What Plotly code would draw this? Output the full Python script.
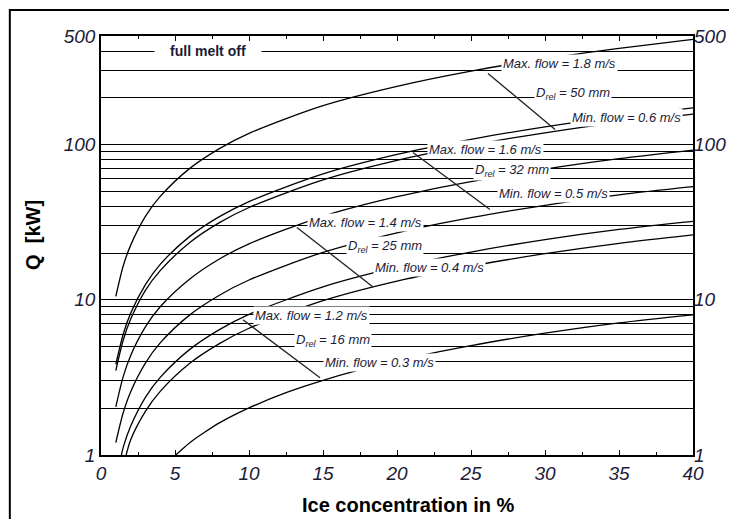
import numpy as np
import plotly.graph_objects as go

# ---------------- data ----------------
x_full = [1, 1.5, 2, 3, 4, 6, 8, 10, 15, 20, 25, 30, 35, 40]

q_max18_d50 = [10.5, 16.5, 22.4, 34.4, 46.3, 70.2, 94.1, 118, 178, 237, 297, 357, 416, 476]
q_min06_d50 = [3.50, 5.49, 7.48, 11.5, 15.4, 23.4, 31.4, 39.3, 59.2, 79.1, 99.0, 119, 139, 157]
q_max16_d32 = [3.83, 6.00, 8.17, 12.5, 16.9, 25.6, 34.3, 42.9, 64.7, 86.4, 108, 130, 152, 172]
q_min05_d32 = [1.20, 1.87, 2.55, 3.91, 5.27, 7.99, 10.7, 13.4, 20.2, 27.0, 33.8, 40.6, 47.4, 53.5]
q_max14_d25 = [2.04, 3.20, 4.36, 6.68, 9.01, 13.6, 18.3, 22.9, 34.5, 46.1, 57.7, 69.4, 81.0, 92.0]

x_min04 = [1.7, 2, 3, 4, 6, 8, 10, 15, 20, 25, 30, 35, 40]
q_min04_d25 = [1.0, 1.25, 1.91, 2.57, 3.90, 5.22, 6.55, 9.87, 13.2, 16.5, 19.8, 23.1, 26.2]

x_max12 = [1.38, 1.5, 2, 3, 4, 6, 8, 10, 15, 20, 25, 30, 35, 40]
q_max12_d16 = [1.0, 1.12, 1.53, 2.35, 3.16, 4.79, 6.42, 8.05, 12.1, 16.2, 20.3, 24.4, 28.4, 32.0]

x_min03 = [5.05, 6, 7, 8, 10, 12.5, 15, 20, 25, 30, 35, 40]
q_min03_d16 = [1.0, 1.20, 1.40, 1.61, 2.01, 2.52, 3.03, 4.05, 5.07, 6.09, 7.10, 8.0]

curves = [
    (x_full, q_max18_d50), (x_full, q_min06_d50), (x_full, q_max16_d32),
    (x_full, q_min05_d32), (x_full, q_max14_d25), (x_min04, q_min04_d25),
    (x_max12, q_max12_d16), (x_min03, q_min03_d16),
]

# curve labels: text, x, Q
label_text = [
    "Max. flow = 1.8 m/s", "D<sub>rel</sub> = 50 mm", "Min. flow = 0.6 m/s",
    "Max. flow = 1.6 m/s", "D<sub>rel</sub> = 32 mm", "Min. flow = 0.5 m/s",
    "Max. flow = 1.4 m/s", "D<sub>rel</sub> = 25 mm", "Min. flow = 0.4 m/s",
    "Max. flow = 1.2 m/s", "D<sub>rel</sub> = 16 mm", "Min. flow = 0.3 m/s",
]
label_x = [31.0, 31.9, 35.5, 25.95, 27.8, 30.6, 17.85, 19.2, 22.2, 14.2, 15.7, 18.85]
label_q = [333, 213, 149, 92.8, 68, 48.3, 31.4, 22.0, 16.1, 7.88, 5.44, 3.92]

# leader lines: (x0, q0) -> (x1, q1)
leader_x = [(26.15, 30.68), (21.08, 26.28), (13.24, 18.38), (9.59, 14.8)]
leader_q = [(287, 125), (88.8, 38.1), (29.2, 12.1), (7.43, 3.14)]

melt_text = "full melt off"
melt_x = 7.2
melt_q = 400

grid_vals = [1, 2, 3, 4, 5, 6, 7, 8, 9, 10, 20, 30, 40, 50, 60, 70, 80, 90,
             100, 200, 300, 400, 500]
major_vals = [1, 10, 100, 500]
x_ticks = [0, 5, 10, 15, 20, 25, 30, 35, 40]

# ---------------- figure ----------------
INK = "#1c1c38"
FONT = "Liberation Sans, Arial, sans-serif"

fig = go.Figure()

for xs, qs in curves:
    fig.add_trace(go.Scatter(x=xs, y=qs, mode="lines",
                             line=dict(color="black", width=1.3, shape="spline", smoothing=0.8),
                             hoverinfo="skip", showlegend=False))

for (xa, xb), (qa, qb) in zip(leader_x, leader_q):
    fig.add_trace(go.Scatter(x=[xa, xb], y=[qa, qb], mode="lines",
                             line=dict(color="#222222", width=1.3),
                             hoverinfo="skip", showlegend=False))

# dummy trace for right axis
fig.add_trace(go.Scatter(x=[0, 40], y=[1, 500], yaxis="y2", mode="markers",
                         marker=dict(opacity=0), hoverinfo="skip", showlegend=False))

# small blue marker after "full melt off"
fig.add_trace(go.Scatter(x=[10.75, 10.75], y=[386, 414], mode="lines",
                         line=dict(color="#3355cc", width=1.2),
                         hoverinfo="skip", showlegend=False))

annotations = []
for t, xv, qv in zip(label_text, label_x, label_q):
    annotations.append(dict(x=xv, y=np.log10(qv), xref="x", yref="y", text=t,
                            showarrow=False, bgcolor="white", borderpad=1,
                            font=dict(family=FONT, size=13, color=INK, style="italic")))

annotations.append(dict(x=melt_x, y=np.log10(melt_q), xref="x", yref="y",
                        text="<b>" + melt_text + "</b>", showarrow=False,
                        bgcolor="white", width=104, align="center", borderpad=1,
                        font=dict(family=FONT, size=14, color=INK)))

annotations.append(dict(x=0.5186, y=-0.119, xref="paper", yref="paper",
                        xanchor="center", yanchor="middle",
                        text="<b>Ice concentration in %</b>", showarrow=False,
                        font=dict(family=FONT, size=20, color="black")))
annotations.append(dict(x=-0.115, y=0.525, xref="paper", yref="paper",
                        xanchor="center", yanchor="middle",
                        text="<b>Q  [kW]</b>", showarrow=False, textangle=-90,
                        font=dict(family=FONT, size=20, color="black")))

yrange = [0, np.log10(500)]

fig.update_layout(
    width=729, height=519,
    margin=dict(l=101, r=36, t=36, b=64, autoexpand=False),
    paper_bgcolor="white", plot_bgcolor="white",
    showlegend=False,
    annotations=annotations,
    xaxis=dict(range=[0, 40], tickvals=x_ticks, ticktext=[str(v) for v in x_ticks],
               ticks="inside", ticklen=5, tickwidth=1, tickcolor="black",
               minor=dict(ticks="inside", ticklen=3, dtick=2.5, tick0=0, tickcolor="black"),
               showline=True, linecolor="black", linewidth=1.5, mirror="ticks",
               showgrid=False, zeroline=False, automargin=False,
               tickfont=dict(family=FONT, size=19, color=INK, style="italic")),
    yaxis=dict(type="log", range=yrange, tickvals=grid_vals,
               ticktext=[str(v) if v in major_vals else "" for v in grid_vals],
               ticks="", showgrid=True, gridcolor="black", gridwidth=1.2,
               showline=True, linecolor="black", linewidth=1.5, mirror=True,
               zeroline=False, automargin=False,
               tickfont=dict(family=FONT, size=19, color=INK, style="italic")),
    yaxis2=dict(type="log", range=yrange, overlaying="y", side="right",
                tickvals=major_vals, ticktext=[str(v) for v in major_vals],
                ticks="", showgrid=False, showline=False, zeroline=False,
                automargin=False,
                tickfont=dict(family=FONT, size=19, color=INK, style="italic")),
    shapes=[dict(type="rect", xref="paper", yref="paper",
                 x0=-0.154, x1=1.1, y0=-0.2, y1=1.062,
                 line=dict(color="black", width=2), fillcolor="rgba(0,0,0,0)")],
)

fig.write_html("out.html")
